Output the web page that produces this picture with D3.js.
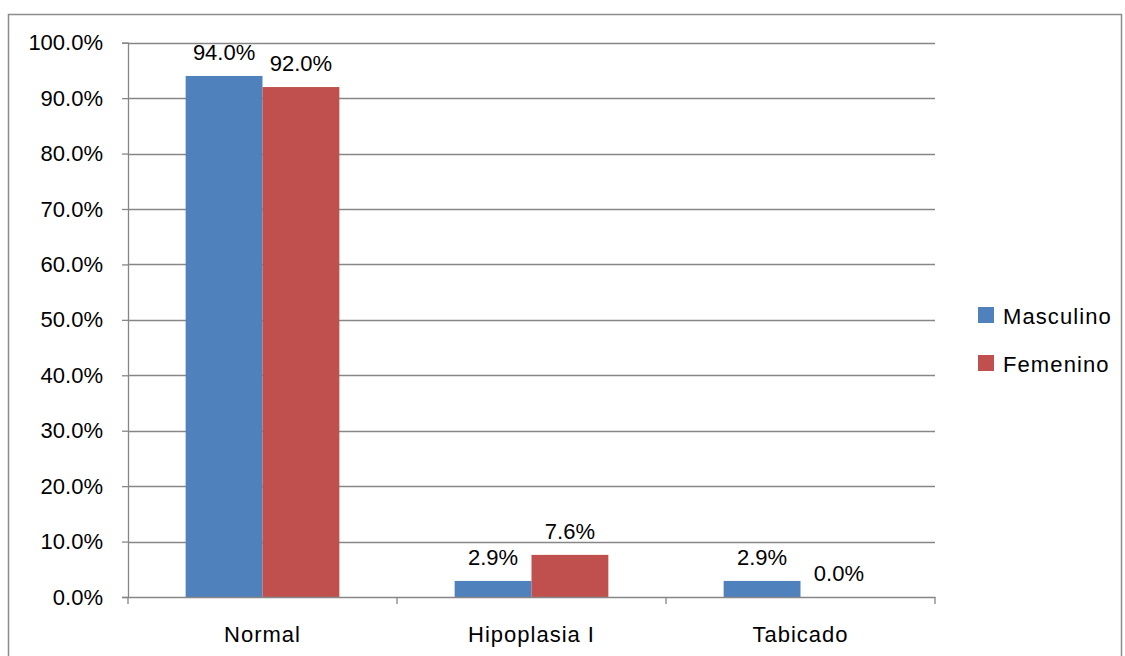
<!DOCTYPE html>
<html>
<head>
<meta charset="utf-8">
<script src="https://cdn.jsdelivr.net/npm/d3@7"></script>
<style>
  html, body { margin: 0; padding: 0; background: #fff; }
  svg { display: block; font-family: "Liberation Sans", Arial, sans-serif; }
</style>
</head>
<body>
<svg id="chart" width="1125" height="656"></svg>
<script>
const categories = ["Normal", "Hipoplasia I", "Tabicado"];
const seriesNames = ["Masculino", "Femenino"];
const masculino = [94.0, 2.9, 2.9];
const femenino = [92.0, 7.6, 0.0];
const yTicks = [0, 10, 20, 30, 40, 50, 60, 70, 80, 90, 100];
const colors = ["#4F81BD", "#C0504D"];

(function () {
const seriesValues = [masculino, femenino];
const svg = d3.select("#chart");
const fontSize = 22;

// outer border
svg.append("rect")
  .attr("x", 8.5).attr("y", 14.5)
  .attr("width", 1113).attr("height", 700)
  .attr("fill", "none").attr("stroke", "#8c8c8c").attr("stroke-width", 1.5);

const pL = 128, pR = 935, pT = 42.7, pB = 597;

const x = d3.scaleBand().domain(categories).range([pL, pR]).paddingInner(0).paddingOuter(0);
const xs = d3.scaleBand().domain(seriesNames).range([0, x.bandwidth()]).paddingInner(0).paddingOuter(0.75);
const y = d3.scaleLinear().domain([0, 100]).range([pB, pT]);

// gridlines
svg.append("g").selectAll("line").data(yTicks.filter(d => d > 0)).join("line")
  .attr("x1", pL).attr("x2", pR)
  .attr("y1", d => Math.round(y(d)) + 0.5).attr("y2", d => Math.round(y(d)) + 0.5)
  .attr("stroke", "#868686").attr("stroke-width", 1.3);

// y axis
const yAxis = d3.axisLeft(y).tickValues(yTicks).tickSize(6).tickPadding(19)
  .tickFormat(d => d3.format(".1f")(d) + "%");
const gy = svg.append("g").attr("transform", `translate(${pL},0)`).call(yAxis);
gy.select(".domain").attr("stroke", "#868686").attr("stroke-width", 1.3);
gy.selectAll(".tick line").attr("stroke", "#868686").attr("stroke-width", 1.3);
gy.selectAll(".tick text").attr("font-size", fontSize).attr("fill", "#000")
  .attr("font-family", "Liberation Sans, Arial, sans-serif");

// bars
const groups = svg.append("g").selectAll("g").data(categories).join("g")
  .attr("transform", d => `translate(${x(d)},0)`);
groups.selectAll("rect").data((c, i) => seriesNames.map((s, j) => ({ s, v: seriesValues[j][i], j })))
  .join("rect")
  .attr("x", d => xs(d.s)).attr("width", xs.bandwidth())
  .attr("y", d => y(d.v)).attr("height", d => y(0) - y(d.v))
  .attr("fill", d => colors[d.j]);

// x axis
const xAxis = d3.axisBottom(x).tickSize(0).tickPadding(29);
const gx = svg.append("g").attr("transform", `translate(0,${pB})`).call(xAxis);
gx.select(".domain").attr("stroke", "#868686").attr("stroke-width", 1.3);
gx.selectAll(".tick text").attr("font-size", fontSize).attr("fill", "#000")
  .attr("font-family", "Liberation Sans, Arial, sans-serif").attr("letter-spacing", "1px");
// category boundary ticks
svg.append("g").selectAll("line").data(categories.map(c => x(c)).concat([pR])).join("line")
  .attr("x1", d => d).attr("x2", d => d)
  .attr("y1", pB).attr("y2", pB + 7)
  .attr("stroke", "#868686").attr("stroke-width", 1.3);

// data labels
groups.selectAll("text.lbl").data((c, i) => seriesNames.map((s, j) => ({ s, v: seriesValues[j][i], j })))
  .join("text").attr("class", "lbl")
  .attr("x", d => xs(d.s) + xs.bandwidth() / 2)
  .attr("y", d => y(d.v) - 16)
  .attr("text-anchor", "middle")
  .attr("font-size", fontSize).attr("fill", "#000")
  .text(d => d3.format(".1f")(d.v) + "%");

// legend
const legend = svg.append("g").selectAll("g").data(seriesNames).join("g")
  .attr("transform", (d, i) => `translate(978,${307 + i * 48})`);
legend.append("rect").attr("width", 16).attr("height", 16).attr("fill", (d, i) => colors[i]);
legend.append("text").attr("x", 25).attr("y", 17)
  .attr("font-size", fontSize).attr("letter-spacing", "1.1px").attr("fill", "#000").text(d => d);
})();
</script>
</body>
</html>
